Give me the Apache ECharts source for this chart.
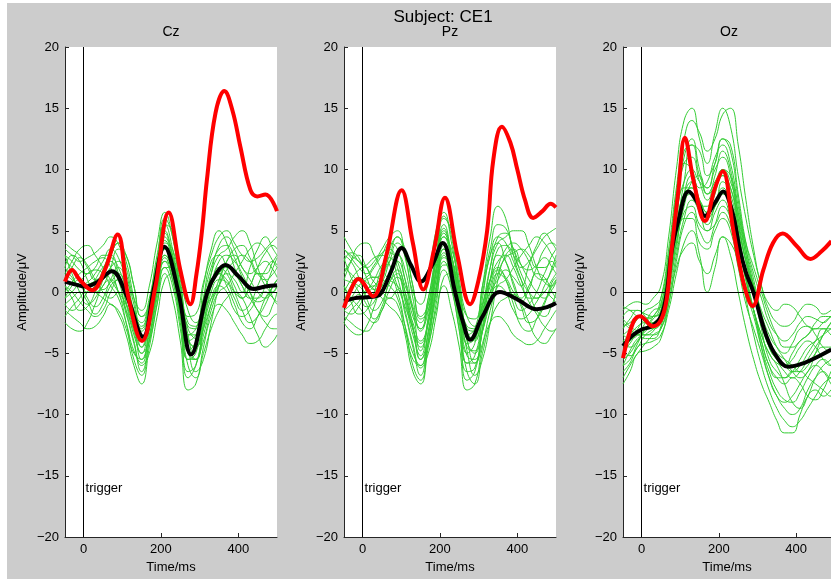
<!DOCTYPE html>
<html>
<head>
<meta charset="utf-8">
<script src="https://cdn.jsdelivr.net/npm/echarts@6.0.0/dist/echarts.min.js"></script>
<style>
  html, body { margin: 0; padding: 0; background: #fff; overflow: hidden; }
  #chart { width: 831px; height: 579px; }
</style>
</head>
<body>
<div id="chart"></div>
<script>
// time grid (ms) shared by the single-trial traces
const trialTimes = [-48, -30, -10, 10, 30, 50, 70, 90, 110, 130, 150, 170, 190, 210, 230, 250, 270, 290, 310, 330, 350, 370, 390, 410, 430, 450, 470, 490, 500];

// ---- Cz ----
const czTrials = [
  [3.5, 3.0, 2.5, 2.8, 3.2, 3.8, 4.5, 3.9, 2.0, -0.5, -1.5, 0.5, 4.0, 6.5, 4.5, 1.0, -2.0, -1.8, 0.8, 3.0, 4.5, 5.0, 4.0, 3.0, 2.5, 2.8, 3.5, 4.2, 4.5],
  [-1.5, -2.0, -2.5, -3.0, -2.8, -2.0, -1.0, -1.8, -3.5, -6.0, -7.5, -4.5, -1.0, 1.5, -0.5, -4.0, -8.0, -7.5, -4.5, -2.0, -1.0, -1.5, -2.5, -3.5, -4.2, -4.0, -3.0, -2.0, -1.8],
  [2.0, 1.2, 0.5, 0.8, 1.5, 2.5, 3.5, 2.8, 0.8, -2.0, -3.2, -0.8, 3.0, 5.5, 3.5, -0.2, -3.5, -3.0, -0.5, 2.0, 3.5, 3.8, 2.8, 1.2, 0.0, -0.8, -0.5, 0.5, 1.0],
  [-0.5, 0.0, 0.8, 1.5, 1.8, 1.5, 0.5, -0.5, -2.5, -4.8, -5.8, -3.0, 0.5, 2.8, 1.0, -2.5, -6.5, -6.0, -2.8, 0.0, 1.0, 0.8, -0.5, -1.5, -1.0, 0.5, 1.8, 2.5, 2.2],
  [1.0, 2.0, 2.8, 2.2, 1.0, 0.2, 0.8, 1.5, 0.5, -1.5, -2.8, -1.0, 2.2, 4.2, 2.5, -0.8, -4.0, -4.5, -2.0, 1.5, 3.8, 4.5, 3.5, 2.0, 1.5, 2.0, 2.5, 1.8, 1.2],
  [2.5, 2.0, 1.0, -0.5, -1.2, -0.5, 1.0, 2.0, 1.0, -1.0, -4.5, -2.5, 1.0, 3.0, 1.5, -1.5, -5.5, -5.0, -2.0, 0.5, 1.5, 1.0, 0.0, -0.5, 0.5, 1.5, 1.0, -0.5, -1.0],
  [-1.0, -0.5, 0.0, -0.8, -1.8, -1.0, 0.5, 1.0, -1.0, -3.5, -5.0, -2.0, 1.5, 4.5, 3.0, 0.0, -3.0, -3.8, -1.0, 1.0, 1.5, 0.5, -1.0, -2.5, -3.0, -2.0, -0.5, 0.5, 1.0],
  [0.5, -0.5, -1.5, -1.2, 0.0, 1.8, 2.8, 2.0, 0.0, -2.8, -4.0, -2.2, 1.5, 3.5, 1.5, -2.0, -5.5, -5.5, -2.5, 0.5, 2.5, 3.0, 2.5, 1.5, 0.0, -1.5, -2.0, -1.0, 0.0],
  [3.0, 2.5, 1.8, 1.5, 2.0, 3.0, 3.0, 1.5, -0.8, -3.0, -4.5, -2.5, 1.8, 5.0, 3.0, -1.0, -4.8, -4.0, -0.5, 2.5, 3.0, 2.0, 0.5, -0.5, 0.5, 2.0, 3.2, 3.8, 3.5],
  [-2.0, -1.2, -0.5, 0.5, 0.8, 0.0, -0.5, 0.0, -1.8, -4.2, -6.5, -4.0, -0.5, 2.0, 0.5, -3.0, -7.0, -6.0, -3.0, -0.5, 0.5, 0.0, -1.5, -2.0, -1.5, -0.5, 0.0, -0.5, -0.8],
  [1.5, 1.0, 0.5, 0.0, 0.5, 1.0, 2.0, 2.5, 1.5, -1.5, -2.5, -0.5, 2.5, 4.8, 2.8, 0.5, -2.5, -2.8, 0.5, 3.5, 5.0, 4.0, 2.0, 0.5, -0.5, -0.5, 0.5, 2.0, 2.8],
  [0.0, 0.8, 1.5, 2.0, 2.5, 2.8, 2.0, 0.0, -1.5, -3.2, -5.5, -3.5, 0.0, 3.5, 2.5, -0.5, -4.0, -3.5, -1.5, -0.5, 0.5, 1.5, 1.0, 0.0, 2.0, 3.5, 4.5, 3.5, 3.0],
  [4.0, 3.5, 3.0, 2.0, 1.0, 1.5, 3.0, 4.0, 3.0, 0.5, -2.0, -1.0, 2.0, 5.5, 5.0, 1.5, -1.5, -2.5, -1.0, 1.5, 3.0, 3.5, 4.5, 5.0, 4.0, 2.0, 0.5, 0.0, 0.5],
  [-2.5, -3.0, -3.2, -2.5, -1.0, 0.5, 1.0, 0.0, -2.5, -5.5, -6.8, -3.8, 0.0, 2.5, 1.0, -2.0, -6.0, -7.0, -5.0, -3.0, -1.5, -0.5, 0.0, -0.5, -2.0, -3.5, -4.5, -4.0, -3.5],
  [1.5, 2.5, 3.5, 3.8, 3.0, 2.0, 1.0, 0.0, -1.0, -2.5, -3.8, -2.5, 0.5, 3.0, 2.0, -1.5, -5.0, -5.5, -3.5, -1.0, 1.0, 2.5, 3.5, 3.8, 2.8, 1.5, 1.0, 1.5, 2.0],
  [0.5, 0.0, -0.8, -1.5, -2.0, -1.5, 0.0, 1.0, 0.0, -2.5, -5.0, -4.0, -1.0, 2.0, 2.0, 0.0, -3.5, -5.5, -4.0, -1.5, 0.0, 0.5, 1.5, 2.5, 3.5, 4.0, 3.5, 2.5, 2.0],
  [2.0, 3.0, 2.5, 1.0, 0.0, 0.5, 2.0, 3.5, 3.0, 0.5, -2.0, -1.5, 1.0, 4.0, 3.5, 0.5, -2.8, -3.0, -1.0, 0.5, 1.5, 2.0, 1.5, 0.5, -0.5, -1.5, -2.5, -3.0, -3.0],
  [-1.0, -1.5, -1.0, 0.0, 1.0, 2.0, 2.5, 1.0, -1.5, -4.0, -6.0, -5.0, -2.0, 1.0, 1.5, -1.0, -4.5, -6.5, -5.5, -2.5, 0.5, 2.5, 3.0, 2.0, 1.0, 0.0, -0.5, 0.0, 0.5],
  [3.0, 1.5, 0.0, -1.0, -0.5, 1.0, 3.0, 4.0, 2.5, -0.5, -3.0, -1.5, 2.5, 6.0, 4.5, 0.0, -3.5, -3.5, -1.5, 0.5, 2.0, 1.5, 0.0, -1.5, -2.5, -2.0, -1.0, 0.5, 1.0],
  [-0.5, 0.5, 1.0, 0.5, 0.0, -0.5, -1.0, -1.5, -3.0, -5.0, -5.5, -3.0, 0.0, 2.5, 2.0, -0.5, -3.8, -4.5, -3.0, -1.0, 0.5, 1.8, 2.5, 3.0, 2.5, 1.5, 1.5, 2.5, 3.0]
];
const czMeanT = [-48, -20, 5, 35, 73, 110, 154, 182, 209, 245, 278, 320, 345, 367, 400, 440, 470, 500];
const czMeanV = [0.85, 0.6, 0.45, 0.8, 1.7, -0.2, -3.65, 0.3, 3.7, 0.0, -5.1, 0.0, 1.6, 2.2, 1.3, 0.25, 0.45, 0.55];
const czRedT = [-48, -30, -10, 22, 55, 88, 115, 151, 185, 220, 250, 276, 292, 306, 319, 341, 364, 385, 405, 431, 449, 470, 500];
const czRedV = [0.85, 1.8, 1.0, 0.15, 1.8, 4.7, -0.3, -4.0, 0.3, 6.5, 1.8, -1.0, 1.5, 4.95, 9.2, 14.6, 16.4, 14.8, 11.9, 8.35, 7.8, 7.95, 6.6];

// ---- Pz ----
const pzTrials = [
  [4.5, 3.5, 2.5, 2.0, 2.5, 3.5, 4.5, 5.0, 3.0, 0.0, -1.0, 1.0, 5.0, 6.5, 4.0, 0.5, -2.0, -2.2, 0.5, 3.5, 5.5, 5.2, 3.5, 2.0, 2.5, 3.5, 4.5, 5.0, 5.2],
  [-2.0, -2.5, -3.0, -3.2, -2.5, -1.5, -0.5, -1.0, -3.5, -6.5, -7.5, -4.5, -1.5, 0.5, -1.5, -4.5, -8.0, -7.5, -4.5, -2.5, -2.0, -2.5, -3.5, -4.0, -4.3, -4.0, -3.0, -2.0, -1.5],
  [2.0, 1.5, 1.0, 1.2, 2.0, 3.0, 4.0, 3.5, 1.0, -2.0, -3.0, -0.5, 3.0, 5.5, 3.0, -0.5, -3.5, -3.0, 0.0, 3.0, 4.5, 4.0, 2.5, 1.0, 0.0, -0.5, 0.0, 1.0, 1.5],
  [-1.0, -0.5, 0.5, 1.0, 1.2, 1.0, 0.5, -0.5, -2.8, -5.0, -6.0, -3.2, 0.5, 3.0, 0.5, -3.0, -6.5, -6.2, -3.0, 0.0, 1.5, 1.0, -0.5, -1.5, -1.0, 0.0, 1.5, 2.5, 2.0],
  [1.5, 2.5, 3.0, 2.0, 0.8, 0.5, 1.5, 2.5, 1.0, -1.5, -3.0, -1.0, 2.5, 4.5, 2.5, -1.0, -4.5, -4.8, -2.0, 2.0, 4.5, 4.8, 3.5, 2.2, 1.8, 2.2, 2.8, 2.0, 1.5],
  [3.0, 2.5, 1.2, -0.5, -1.5, -0.8, 0.8, 1.8, 0.5, -1.5, -4.8, -2.5, 1.0, 3.2, 1.2, -2.0, -5.8, -5.2, -2.2, 0.5, 1.8, 1.2, 0.0, -0.8, 0.2, 1.5, 1.2, 0.0, -0.5],
  [-1.5, -1.0, -0.2, -1.0, -2.2, -1.2, 0.8, 1.5, -0.8, -3.5, -5.2, -2.0, 1.8, 4.8, 3.0, -0.5, -3.2, -4.0, -1.2, 1.0, 2.0, 1.0, -1.0, -2.8, -3.2, -2.2, -0.8, 0.5, 1.0],
  [0.5, -0.8, -1.8, -1.5, 0.0, 2.0, 3.2, 2.5, 0.0, -3.0, -4.2, -2.2, 1.5, 3.8, 1.5, -2.2, -5.8, -5.8, -2.8, 1.0, 3.5, 3.8, 3.0, 1.5, 0.0, -1.5, -2.0, -1.0, 0.0],
  [3.5, 2.8, 2.0, 1.5, 2.2, 3.2, 3.5, 2.0, -0.5, -3.0, -4.5, -2.5, 2.0, 5.2, 3.0, -1.0, -5.0, -4.2, -0.5, 3.0, 4.0, 2.5, 0.8, -0.5, 0.5, 2.0, 3.5, 4.0, 3.8],
  [-2.5, -1.5, -0.8, 0.2, 0.5, 0.0, -0.5, 0.2, -1.8, -4.5, -6.8, -4.0, -0.5, 1.8, 0.2, -3.2, -7.2, -6.5, -3.2, -0.5, 0.5, 0.0, -1.5, -2.2, -1.8, -0.8, 0.0, -0.5, -0.8],
  [1.0, 0.8, 0.5, 0.0, 0.5, 1.2, 2.5, 3.0, 1.8, -1.2, -2.5, -0.5, 2.8, 5.0, 2.8, 0.2, -2.8, -3.0, 0.5, 4.5, 7.0, 6.0, 3.0, 1.0, -0.5, -0.5, 0.5, 2.0, 3.0],
  [0.0, 1.0, 1.8, 2.2, 2.8, 3.0, 2.2, 0.5, -1.2, -3.0, -5.5, -3.5, 0.2, 3.5, 2.2, -0.8, -4.2, -3.8, -1.5, 0.0, 1.0, 1.8, 1.2, 0.5, 2.2, 3.8, 4.8, 4.0, 3.5],
  [3.5, 3.0, 2.5, 2.0, 1.2, 1.5, 3.0, 4.5, 3.5, 0.5, -2.0, -1.0, 2.5, 6.0, 5.0, 1.0, -2.0, -2.8, -1.0, 2.0, 4.0, 4.5, 5.0, 5.0, 3.8, 2.0, 0.8, 0.5, 1.0],
  [-2.5, -3.2, -3.5, -2.8, -1.2, 0.5, 1.2, 0.0, -2.8, -6.0, -7.2, -4.0, 0.0, 2.5, 0.8, -2.5, -6.5, -7.5, -5.0, -2.5, -1.0, -0.5, -0.2, -1.0, -2.5, -3.8, -4.2, -3.5, -3.0],
  [1.0, 2.5, 3.8, 4.0, 3.0, 1.8, 1.0, 0.5, -0.5, -2.5, -4.0, -2.5, 1.0, 3.5, 2.0, -1.8, -5.2, -5.5, -3.2, -0.5, 2.0, 3.5, 4.0, 3.5, 2.5, 1.2, 1.0, 1.8, 2.5],
  [0.5, -0.5, -1.2, -2.0, -2.5, -1.5, 0.2, 1.2, 0.0, -2.8, -5.5, -4.2, -1.0, 2.2, 2.2, 0.0, -3.8, -5.8, -4.2, -1.5, 0.5, 1.0, 2.0, 3.0, 3.8, 4.5, 4.0, 3.0, 2.5],
  [2.5, 3.2, 2.8, 1.2, 0.2, 0.8, 2.5, 4.0, 3.2, 0.5, -2.2, -1.5, 1.5, 4.5, 3.5, 0.5, -3.0, -3.2, -1.0, 1.0, 2.5, 3.0, 2.0, 0.5, -0.8, -1.8, -2.8, -3.2, -3.0],
  [-1.5, -1.8, -1.2, 0.0, 1.0, 2.2, 2.8, 1.2, -1.5, -4.2, -6.2, -5.0, -2.0, 1.2, 1.5, -1.2, -4.8, -6.8, -5.5, -2.5, 1.0, 3.0, 3.5, 2.2, 1.0, 0.0, -0.5, 0.2, 0.8],
  [2.8, 1.2, 0.0, -1.2, -0.8, 1.0, 3.5, 4.5, 2.8, -0.5, -3.2, -1.5, 2.8, 6.2, 4.5, 0.0, -3.5, -3.8, -1.5, 1.0, 3.0, 2.5, 0.5, -1.2, -2.5, -2.2, -1.0, 0.8, 1.2],
  [-0.8, 0.5, 1.2, 0.8, 0.2, -0.5, -1.2, -1.8, -3.2, -5.5, -6.0, -3.2, 0.0, 2.8, 2.2, -0.5, -4.0, -5.0, -3.2, -0.8, 1.5, 2.8, 3.2, 3.5, 3.0, 2.0, 2.0, 3.0, 3.5]
];
const pzMeanT = [-48, -20, 10, 40, 55, 75, 101, 125, 151, 180, 207, 239, 260, 278, 310, 355, 400, 450, 480, 500];
const pzMeanV = [-0.75, -0.5, -0.42, -0.3, 0.3, 1.8, 3.6, 2.2, 0.85, 2.2, 4.0, 0.0, -2.5, -3.9, -2.0, 0.0, -0.6, -1.4, -1.2, -0.9];
const pzRedT = [-48, -30, -11, 27, 60, 101, 130, 157, 185, 213, 245, 278, 300, 322, 338, 360, 382, 400, 420, 441, 465, 486, 500];
const pzRedV = [-1.3, 0.2, 1.07, -0.34, 2.8, 8.3, 4.0, 0.2, 3.5, 7.7, 3.0, -1.0, 1.0, 5.0, 10.8, 13.5, 12.2, 10.0, 7.5, 6.05, 6.6, 7.2, 6.9];

// ---- Oz ----
const ozTrials = [
  [-1.5, -1.0, -0.8, -1.0, -0.5, 0.5, 4.5, 10.0, 14.0, 15.0, 12.5, 10.5, 13.0, 15.0, 13.5, 9.5, 6.0, 3.0, 0.5, -1.5, -2.5, -2.8, -2.5, -1.5, -1.0, -1.2, -1.8, -1.5, -1.2],
  [-7.5, -6.5, -5.0, -4.8, -4.5, -3.8, -1.0, 2.0, 3.5, 4.0, 2.5, 1.5, 3.0, 4.5, 3.0, 0.0, -3.0, -5.5, -7.5, -9.0, -10.5, -11.5, -11.5, -10.0, -8.5, -8.0, -8.5, -8.0, -7.5],
  [-3.0, -2.2, -1.5, -1.8, -2.0, -1.0, 2.5, 7.0, 10.5, 11.0, 9.0, 7.5, 9.5, 11.5, 10.0, 6.0, 2.5, 0.5, -1.8, -3.5, -4.5, -5.0, -4.2, -3.0, -2.8, -3.5, -4.5, -4.8, -4.5],
  [-5.5, -5.0, -4.0, -3.2, -2.8, -2.5, 0.5, 4.0, 6.5, 7.0, 5.5, 5.0, 6.5, 7.5, 6.0, 3.0, 0.0, -2.0, -4.5, -6.5, -8.0, -8.8, -9.0, -8.2, -7.0, -6.0, -5.5, -6.0, -6.2],
  [-2.5, -3.0, -3.5, -3.0, -2.2, -1.5, 2.5, 6.5, 9.0, 10.0, 9.0, 8.5, 10.0, 11.0, 9.5, 5.5, 2.5, 0.0, -3.0, -5.5, -6.5, -7.0, -6.5, -5.5, -4.5, -4.0, -3.5, -3.0, -2.8],
  [-6.0, -4.8, -3.8, -3.5, -3.5, -3.0, -0.5, 3.0, 6.0, 7.5, 6.5, 5.0, 5.5, 6.5, 5.5, 3.5, 1.0, -1.5, -4.0, -6.0, -7.0, -7.5, -7.0, -7.5, -8.5, -8.8, -8.0, -6.5, -6.0],
  [-4.0, -3.5, -2.8, -2.5, -2.5, -1.5, 2.0, 6.0, 8.5, 8.5, 7.0, 7.0, 8.5, 9.5, 8.5, 5.5, 2.5, 0.5, -1.5, -3.0, -4.5, -5.5, -6.5, -7.0, -6.5, -5.0, -3.5, -2.5, -2.2],
  [-3.5, -3.8, -3.5, -2.5, -1.5, -1.2, 1.5, 5.5, 8.0, 8.5, 6.5, 5.5, 7.0, 8.5, 7.5, 4.5, 1.0, -1.5, -3.5, -5.0, -5.8, -6.0, -5.5, -4.5, -4.0, -4.5, -5.5, -6.0, -5.8],
  [-2.0, -1.5, -1.5, -2.0, -2.8, -2.0, 1.0, 5.0, 9.0, 12.0, 11.5, 9.5, 10.5, 12.5, 12.0, 8.0, 4.0, 1.5, -0.5, -2.5, -3.5, -4.0, -3.5, -2.5, -2.0, -2.2, -2.5, -2.0, -1.8],
  [-5.0, -4.2, -3.5, -3.8, -3.8, -2.8, 0.0, 3.5, 6.0, 6.0, 4.0, 3.5, 5.0, 6.0, 5.0, 2.0, -1.0, -3.0, -5.0, -7.0, -8.5, -9.5, -10.0, -9.5, -8.0, -7.0, -6.5, -7.0, -7.0],
  [-4.5, -4.0, -3.0, -2.2, -2.0, -1.8, 2.0, 7.0, 11.0, 12.5, 10.0, 8.0, 9.0, 10.0, 9.0, 6.5, 3.5, 1.0, -2.0, -4.5, -5.5, -6.0, -6.5, -6.0, -5.0, -4.0, -3.0, -3.0, -3.2],
  [-6.5, -5.8, -4.5, -4.2, -4.0, -3.5, -1.5, 1.5, 4.0, 5.0, 3.0, 0.0, 2.0, 4.5, 4.0, 2.5, 0.5, -1.5, -3.5, -5.0, -6.0, -7.5, -9.0, -9.5, -8.5, -7.0, -6.0, -5.5, -5.0],
  [-1.2, -1.5, -2.0, -2.2, -2.0, -0.5, 3.5, 8.5, 12.5, 14.0, 13.0, 11.5, 12.5, 14.5, 15.0, 12.0, 7.5, 3.5, 0.5, -1.0, -1.5, -1.0, -1.2, -2.0, -2.8, -3.0, -2.5, -2.0, -1.8],
  [-7.0, -6.0, -5.0, -4.2, -3.5, -3.0, -1.0, 2.5, 5.5, 6.5, 5.0, 4.0, 5.5, 7.0, 6.0, 3.0, -0.5, -3.5, -6.0, -8.0, -9.5, -10.5, -11.0, -10.5, -9.5, -8.5, -7.5, -7.0, -6.8],
  [-3.5, -3.0, -2.2, -1.5, -1.2, -0.5, 3.0, 8.0, 11.5, 12.0, 9.5, 8.5, 10.5, 12.5, 11.5, 7.5, 3.5, 0.5, -2.5, -4.5, -5.5, -6.0, -5.0, -4.0, -3.5, -2.5, -2.0, -2.0, -2.2],
  [-5.0, -5.2, -4.5, -3.5, -3.0, -2.2, 1.0, 5.0, 7.5, 8.0, 7.5, 6.5, 7.0, 8.0, 7.0, 4.0, 1.0, -1.5, -4.0, -6.0, -7.0, -7.0, -6.5, -6.5, -7.0, -7.5, -8.0, -8.5, -8.5],
  [-2.8, -2.5, -2.0, -2.5, -3.0, -2.5, 0.5, 4.5, 8.0, 9.5, 8.5, 9.0, 11.0, 12.0, 10.5, 7.0, 4.0, 2.0, 0.0, -2.0, -3.5, -4.5, -4.5, -4.0, -3.5, -3.0, -3.0, -3.5, -3.8],
  [-6.0, -5.5, -4.2, -3.0, -2.5, -2.0, 1.0, 5.0, 8.0, 9.0, 7.5, 6.0, 7.0, 9.0, 8.0, 5.0, 1.5, -1.5, -4.5, -7.0, -8.5, -9.0, -8.5, -7.5, -6.5, -6.0, -6.5, -7.5, -8.0],
  [-4.0, -4.5, -4.0, -3.0, -2.0, -1.0, 2.5, 7.5, 10.5, 10.0, 7.5, 6.5, 8.0, 10.0, 9.5, 6.5, 3.0, 0.0, -2.5, -4.0, -5.0, -5.5, -6.0, -6.5, -6.0, -5.0, -4.5, -4.5, -4.5],
  [-2.2, -2.8, -3.2, -3.5, -3.2, -2.0, 0.5, 4.0, 7.0, 9.0, 9.5, 8.0, 8.5, 9.5, 8.5, 6.0, 3.0, 0.5, -2.0, -4.0, -5.5, -6.5, -7.0, -6.5, -5.5, -4.5, -3.5, -2.5, -2.0]
];
const ozMeanT = [-48, -25, 0, 26, 50, 65, 78, 95, 122, 145, 164, 190, 211, 235, 254, 270, 289, 323, 350, 379, 420, 461, 491];
const ozMeanV = [-4.4, -3.6, -3.06, -2.8, -2.0, -0.1, 3.4, 5.8, 8.2, 7.3, 6.2, 7.3, 8.2, 6.5, 3.5, 1.6, 0.0, -3.6, -5.3, -6.1, -5.8, -5.2, -4.7];
const ozRedT = [-48, -22, -4, 30, 50, 65, 78, 95, 112, 135, 164, 190, 210, 237, 255, 270, 287, 315, 340, 365, 400, 437, 465, 491];
const ozRedV = [-5.4, -2.5, -1.97, -2.8, -2.3, -0.6, 3.5, 8.2, 12.6, 9.0, 5.8, 8.5, 9.85, 5.1, 2.0, 0.0, -1.15, 1.8, 4.0, 4.77, 3.8, 2.7, 3.3, 4.15];

const yTicks = [-20, 20, 5];
const xTickValues = [0, 200, 400];

const font = "'Liberation Sans', Arial, Helvetica, sans-serif";
const green = "#33cc33";

const panels = [
  { name: "Cz", left: 65, width: 212, xMax: 500, trials: czTrials, meanT: czMeanT, meanV: czMeanV, redT: czRedT, redV: czRedV },
  { name: "Pz", left: 344, width: 212, xMax: 500, trials: pzTrials, meanT: pzMeanT, meanV: pzMeanV, redT: pzRedT, redV: pzRedV },
  { name: "Oz", left: 623, width: 208, xMax: 490, trials: ozTrials, meanT: ozMeanT, meanV: ozMeanV, redT: ozRedT, redV: ozRedV },
];

const pair = (ts, vs) => ts.map((t, i) => [t, vs[i]]);

const grids = [], xAxes = [], yAxes = [], series = [];
const graphics = [
  { type: "rect", left: 7, top: 3, shape: { width: 824, height: 576 }, style: { fill: "#cccccc" }, z: -10 },
  { type: "text", x: 443, y: 17, style: { text: "Subject: CE1", font: "17px " + font, fill: "#000", align: "center", verticalAlign: "middle", textAlign: "center", textVerticalAlign: "middle" } },
];

panels.forEach((p, i) => {
  grids.push({ left: p.left, top: 47, width: p.width, height: 491, show: true, backgroundColor: "#fff", borderWidth: 0 });
  graphics.push({ type: "text", x: p.left + 106, y: 32, style: { text: p.name, font: "14px " + font, fill: "#000", align: "center", verticalAlign: "middle", textAlign: "center", textVerticalAlign: "middle" } });

  xAxes.push({
    gridIndex: i, type: "value", min: -48, max: p.xMax,
    name: "Time/ms", nameLocation: "middle", nameGap: 24,
    nameTextStyle: { color: "#000", fontSize: 13, fontFamily: font },
    axisLine: { show: true, onZero: false, lineStyle: { color: "#262626", width: 1 } },
    axisTick: { show: true, inside: true, length: 4, customValues: xTickValues, lineStyle: { color: "#262626" } },
    axisLabel: { customValues: xTickValues, color: "#000", fontSize: 13, fontFamily: font, margin: 6 },
    splitLine: { show: false },
  });
  yAxes.push({
    gridIndex: i, type: "value", min: yTicks[0], max: yTicks[1], interval: yTicks[2],
    name: "Amplitude/\u03bcV", nameLocation: "middle", nameGap: 36,
    nameTextStyle: { color: "#000", fontSize: 13, fontFamily: font },
    axisLine: { show: true, onZero: false, lineStyle: { color: "#262626", width: 1 } },
    axisTick: { show: true, inside: true, length: 4, lineStyle: { color: "#262626" } },
    axisLabel: { color: "#000", fontSize: 13, fontFamily: font, margin: 6, formatter: (v) => String(v).replace("-", "\u2212") },
    splitLine: { show: false },
  });

  p.trials.forEach((tr) => {
    series.push({
      type: "line", xAxisIndex: i, yAxisIndex: i, data: pair(trialTimes, tr),
      showSymbol: false, smooth: 0.5, silent: true, z: 2,
      lineStyle: { color: green, width: 1 },
    });
  });

  // zero line, trigger line and label
  series.push({
    type: "line", xAxisIndex: i, yAxisIndex: i, data: [], z: 3, silent: true,
    markLine: {
      silent: true, symbol: "none", label: { show: false }, animation: false,
      lineStyle: { color: "#000", width: 1, type: "solid" },
      data: [{ yAxis: 0 }, { xAxis: 0 }],
    },
    markPoint: {
      symbol: "circle", symbolSize: 0, animation: false,
      data: [{ coord: [0, -16] }],
      label: { show: true, formatter: "trigger", position: "right", distance: 2, color: "#000", fontSize: 13, fontFamily: font },
    },
  });

  series.push({
    type: "line", xAxisIndex: i, yAxisIndex: i, data: pair(p.meanT, p.meanV),
    showSymbol: false, smooth: 0.4, silent: true, z: 4,
    lineStyle: { color: "#000", width: 4 },
  });
  series.push({
    type: "line", xAxisIndex: i, yAxisIndex: i, data: pair(p.redT, p.redV),
    showSymbol: false, smooth: 0.4, silent: true, z: 5,
    lineStyle: { color: "#ff0000", width: 4 },
  });
});

const chart = echarts.init(document.getElementById("chart"), null, { renderer: "canvas" });
chart.setOption({
  backgroundColor: "#fff",
  animation: false,
  textStyle: { fontFamily: font },
  grid: grids,
  xAxis: xAxes,
  yAxis: yAxes,
  graphic: graphics,
  series: series,
});
</script>
</body>
</html>
